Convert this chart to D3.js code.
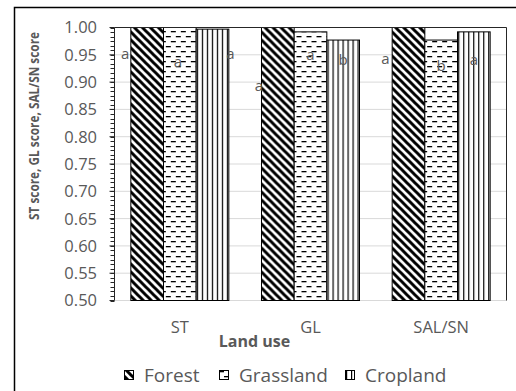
<!DOCTYPE html>
<html>
<head>
<meta charset="utf-8">
<script src="https://cdn.jsdelivr.net/npm/d3@7"></script>
<style>
  html, body { margin: 0; padding: 0; background: #fff; }
  svg { display: block; }
  text { font-family: "Open Sans", "Noto Sans", sans-serif; fill: #595959; }
</style>
</head>
<body>
<svg id="chart" width="516" height="391"></svg>
<script>
// Land-use categories along the x axis
const categories = ["ST", "GL", "SAL/SN"];
// Series (one bar per land use within each category)
const seriesNames = ["Forest", "Grassland", "Cropland"];
// Scores per series, in category order
const forestScores    = [1.000, 1.000, 1.000];
const grasslandScores = [1.000, 0.992, 0.977];
const croplandScores  = [0.997, 0.977, 0.992];
// Significance letters per series, in category order
const forestLetters    = ["a", "a", "a"];
const grasslandLetters = ["a", "a", "b"];
const croplandLetters  = ["a", "b", "a"];
// Score level at which each letter sits
const forestLetterAt    = [0.943, 0.884, 0.933];
const grasslandLetterAt = [0.928, 0.941, 0.920];
const croplandLetterAt  = [0.943, 0.931, 0.931];
// Y axis tick labels
const yTicks = [0.50, 0.55, 0.60, 0.65, 0.70, 0.75, 0.80, 0.85, 0.90, 0.95, 1.00];

const scoresBySeries = [forestScores, grasslandScores, croplandScores];
const lettersBySeries = [forestLetters, grasslandLetters, croplandLetters];
const letterAtBySeries = [forestLetterAt, grasslandLetterAt, croplandLetterAt];
// horizontal nudge of each letter from its bar centre (px), per series / category
const letterShift = [[-22, -19, -23], [-2, 0, 0], [18, 0, 0]];

const svg = d3.select("#chart");
const W = 516, H = 391;
const plot = { left: 114.5, right: 506.5, top: 27.5, bottom: 300.5 };

// ---------- fill patterns ----------
const defs = svg.append("defs");
const pForest = defs.append("pattern").attr("id", "pat-forest")
  .attr("patternUnits", "userSpaceOnUse").attr("width", 8).attr("height", 8);
pForest.append("rect").attr("width", 8).attr("height", 8).attr("fill", "#fff");
pForest.append("path").attr("d", "M-2,-2 L10,10 M-2,6 L2,10 M6,-2 L10,2")
  .attr("stroke", "#000").attr("stroke-width", 3);

const pGrass = defs.append("pattern").attr("id", "pat-grass")
  .attr("patternUnits", "userSpaceOnUse").attr("width", 10).attr("height", 10);
pGrass.append("rect").attr("width", 10).attr("height", 10).attr("fill", "#fff");
pGrass.append("rect").attr("x", 0).attr("y", 1).attr("width", 5).attr("height", 1.3).attr("fill", "#000");
pGrass.append("rect").attr("x", 5).attr("y", 6).attr("width", 5).attr("height", 1.3).attr("fill", "#000");

const pCrop = defs.append("pattern").attr("id", "pat-crop")
  .attr("patternUnits", "userSpaceOnUse").attr("width", 5).attr("height", 5);
pCrop.append("rect").attr("width", 5).attr("height", 5).attr("fill", "#fff");
pCrop.append("rect").attr("x", 1).attr("y", 0).attr("width", 1.2).attr("height", 5).attr("fill", "#000");

const fills = ["url(#pat-forest)", "url(#pat-grass)", "url(#pat-crop)"];

// ---------- background and chart frame ----------
svg.append("rect").attr("width", W).attr("height", H).attr("fill", "#fff");
svg.append("path").attr("d", `M14.5,${H} L14.5,7.5 L${W},7.5`)
  .attr("fill", "none").attr("stroke", "#000").attr("stroke-width", 1.5);

// ---------- scales ----------
const x = d3.scaleBand().domain(categories)
  .range([plot.left, plot.right]).paddingInner(0.25).paddingOuter(0.125);
const xs = d3.scaleBand().domain(seriesNames).range([0, x.bandwidth()]);
const y = d3.scaleLinear().domain([0.5, 1.0]).range([plot.bottom, plot.top]);

// ---------- gridlines ----------
svg.append("g").selectAll("line").data(yTicks).join("line")
  .attr("x1", plot.left).attr("x2", plot.right)
  .attr("y1", d => y(d)).attr("y2", d => y(d))
  .attr("stroke", "#d9d9d9").attr("stroke-width", 1);

// ---------- bars ----------
const groups = svg.append("g").selectAll("g").data(categories).join("g")
  .attr("transform", d => `translate(${x(d)},0)`);
groups.selectAll("rect")
  .data((c, ci) => seriesNames.map((s, si) => ({ s, si, v: scoresBySeries[si][ci] })))
  .join("rect")
  .attr("x", d => xs(d.s))
  .attr("width", xs.bandwidth())
  .attr("y", d => y(d.v))
  .attr("height", d => y(0.5) - y(d.v))
  .attr("fill", d => fills[d.si])
  .attr("stroke", "#000").attr("stroke-width", 1);

// ---------- significance letters ----------
groups.selectAll("text.letter")
  .data((c, ci) => seriesNames.map((s, si) => ({
    s, si, ci, t: lettersBySeries[si][ci], at: letterAtBySeries[si][ci] })))
  .join("text").attr("class", "letter")
  .attr("x", d => xs(d.s) + xs.bandwidth() / 2 + letterShift[d.si][d.ci])
  .attr("y", d => y(d.at))
  .attr("text-anchor", "middle")
  .style("font-size", "15px")
  .text(d => d.t);

// ---------- plot border (top / right) ----------
svg.append("path")
  .attr("d", `M${plot.left},${plot.top} L${plot.right},${plot.top} L${plot.right},${plot.bottom}`)
  .attr("fill", "none").attr("stroke", "#262626").attr("stroke-width", 1);

// ---------- y axis ----------
const minorTicks = d3.range(0, 61).map(i => 0.5 + i * (0.5 / 60));
const yAxis = svg.append("g");
yAxis.selectAll("line.minor").data(minorTicks).join("line").attr("class", "minor")
  .attr("x1", plot.left - 4).attr("x2", plot.left)
  .attr("y1", d => Math.round(y(d)) + 0.5).attr("y2", d => Math.round(y(d)) + 0.5)
  .attr("stroke", "#262626").attr("stroke-width", 1);
yAxis.selectAll("line.major").data(yTicks).join("line").attr("class", "major")
  .attr("x1", plot.left - 5).attr("x2", plot.left)
  .attr("y1", d => y(d)).attr("y2", d => y(d))
  .attr("stroke", "#262626").attr("stroke-width", 1);
yAxis.append("line")
  .attr("x1", plot.left).attr("x2", plot.left)
  .attr("y1", plot.top).attr("y2", plot.bottom)
  .attr("stroke", "#262626").attr("stroke-width", 1);
yAxis.selectAll("text").data(yTicks).join("text")
  .attr("x", 97).attr("y", d => y(d))
  .attr("dy", "0.36em").attr("text-anchor", "end")
  .style("font-size", "16.5px")
  .text(d => d.toFixed(2));

// ---------- x axis labels ----------
svg.append("g").selectAll("text").data(categories).join("text")
  .attr("x", d => x(d) + x.bandwidth() / 2).attr("y", 333)
  .attr("text-anchor", "middle").style("font-size", "16.5px")
  .text(d => d);

// ---------- axis titles ----------
svg.append("text").attr("x", 254.5).attr("y", 346.5)
  .attr("text-anchor", "middle").style("font-size", "16px").style("font-weight", "bold")
  .text("Land use");
svg.append("text")
  .attr("transform", "translate(39,126) rotate(-90)")
  .attr("text-anchor", "middle").style("font-size", "13.5px").style("font-weight", "bold")
  .attr("textLength", 188).attr("lengthAdjust", "spacingAndGlyphs")
  .text("ST score, GL score, SAL/SN score");

// ---------- legend ----------
const legendX = [124, 219, 345];
const legend = svg.append("g").selectAll("g").data(seriesNames).join("g")
  .attr("transform", (d, i) => `translate(${legendX[i]},0)`);
legend.append("rect").attr("x", 0.5).attr("y", 370.5).attr("width", 9).attr("height", 9)
  .attr("fill", (d, i) => fills[i]).attr("stroke", "#000").attr("stroke-width", 1);
legend.append("text").attr("x", 20).attr("y", 382)
  .style("font-size", "19px").text(d => d);
</script>
</body>
</html>
